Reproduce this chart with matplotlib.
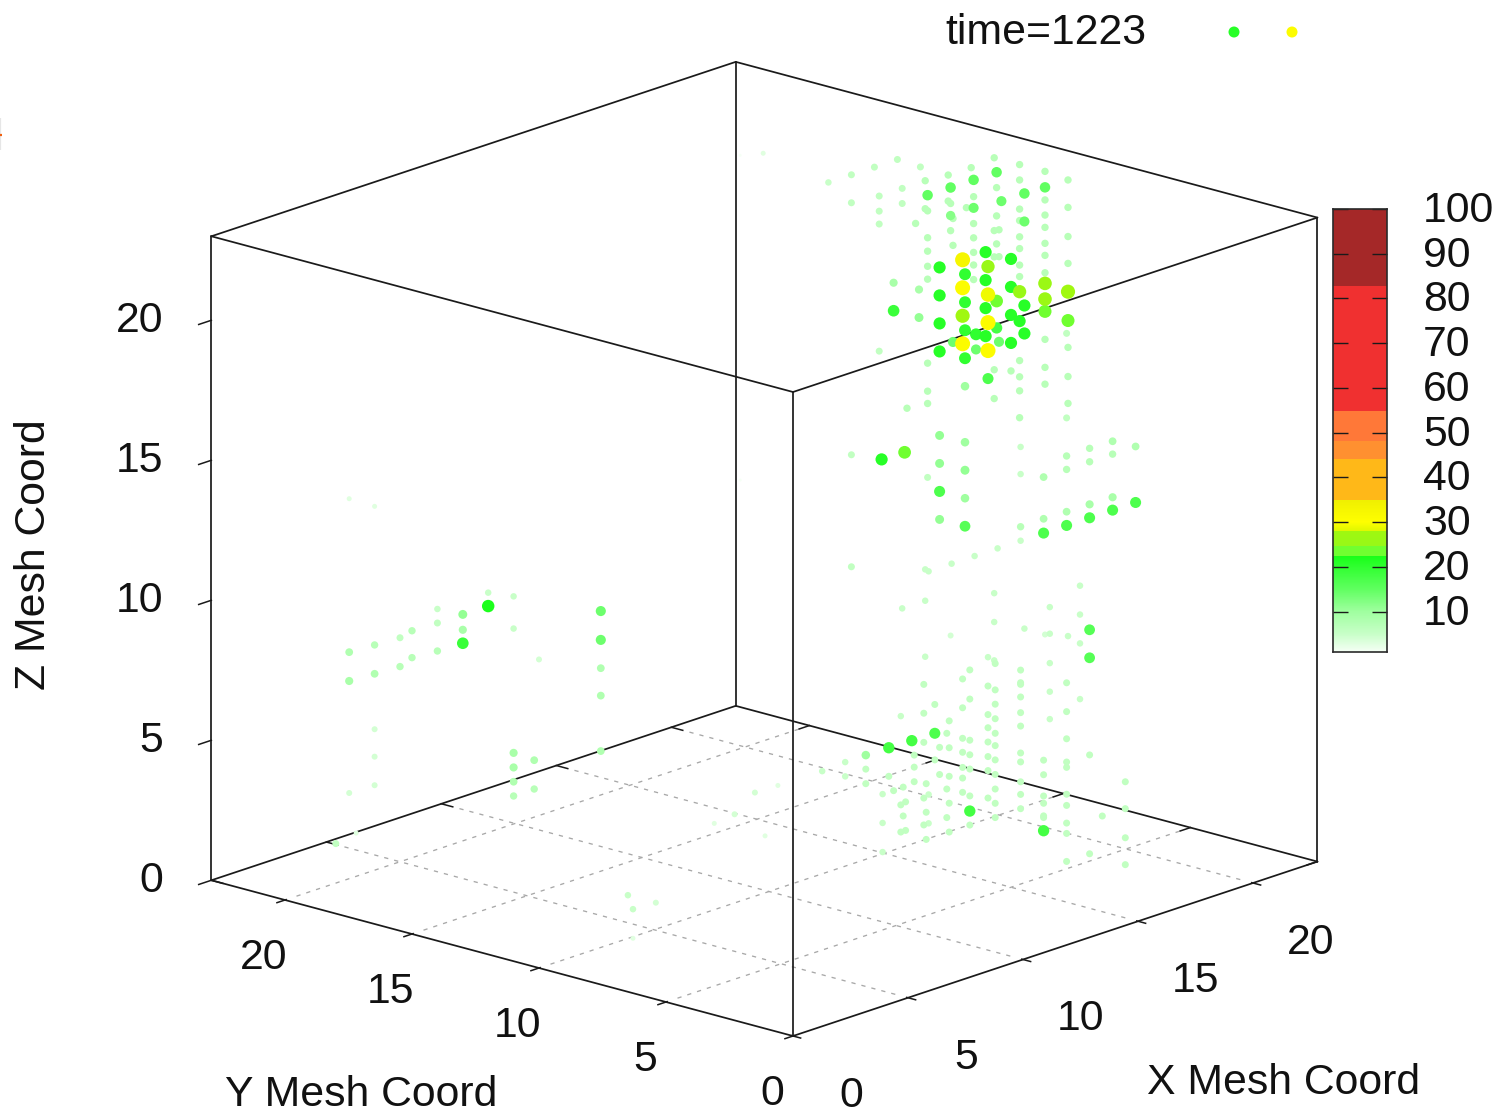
import numpy as np
import matplotlib
matplotlib.use("Agg")
import matplotlib.pyplot as plt
from matplotlib.colors import LinearSegmentedColormap, Normalize
from matplotlib.transforms import ScaledTranslation

plt.rcParams['font.family'] = ['Liberation Sans', 'DejaVu Sans']

# Mesh columns: each row of these lists is one group of nodes at (x, y) with one load value
col_x = [14,14,14,14,14,14,14,13,13,13,
         13,13,13,13,15,15,15,22,22,22,
         21,21,21,21,20,20,20,20,22,22,
         22,22,22,23,23,23,23,11,11,11,
         18,18,19,19,20,20,11,11,20,20,
         20,19,19,19,19,18,18,18,19,12,
         12,12,12,13,13,13,13,14,14,14,
         14,14,15,15,15,15,16,16,11,11,
         11,10,9,8,7,16,17,18,18,22,
         22,19,19,20,21,23,18,18,17,20,
         21,19,17,23,16,20,15,14,11,14,
         14,11,11,14,9,10,13,15,15,14,
         13,13,12,12,9,8,13,8,8,6,
         7,5,10,9,0,0,0,0,0,0,
         0,0,0,5,5,5,5,5,5,5,
         5,5,5,0,0,0,0,0,6,6,
         2,2,0,0,1,0,0,0,0,0,
         0,0,0,23,22]
col_y = [6,6,6,5,5,5,5,6,6,6,
         5,5,5,5,6,5,5,11,11,11,
         11,11,11,11,9,9,9,9,10,10,
         10,10,10,10,10,10,10,6,6,6,
         10,10,10,10,10,10,5,5,11,11,
         11,11,11,11,11,11,11,11,9,1,
         1,1,1,1,1,1,1,1,1,1,
         1,1,1,1,1,1,1,1,1,1,
         1,1,1,1,1,11,11,14,5,12,
         12,12,12,12,12,14,12,12,12,14,
         14,14,14,16,10,8,0.5,0.5,2,5,
         5,3,3,6,2,3,6,8,8,8,
         8,8,8,8,3,2,7,3,3,1,
         2,1,7,7,12,12,13,13,13,14,
         14,14,15,20,20,21,21,21,21,22,
         22,22,22,11,11,11,11,10,13,13,
         12,12,17.2,18,1.5,1.5,2.3,3.1,1.1,6.5,
         6.3,6.3,5.4,22,22]
col_v = [33,31,28,31,29,25,17,21,17,11,
         20,16,11,10,21,21,7,25,21,7,
         23,18,15,7,21,15,14,5,26,24,
         15,7,4,28,24,7,5,19,9,6,
         14,7,20,14,14,7,11,9,15,14,
         7,15,12,7,4,15,7,6,14,18,
         17,8,6,17,8,7,6,17,16,9,
         7,6,17,9,8,7,17,8,7,5,
         6,5,5,5,5,21,23,6,5,7,
         5,7,5,7,7,7,6,5,6,6,
         6,6,5,7,7,5,6,6,6,6,
         5,18,6,6,6,6,6,17,6,18,
         18,6,10,6,6,6,6,5,6,6,
         6,5,5,5,22,5,19,11,9,5,
         6,7,7,6,7,7,8,4,3,8,
         9,4,3,5,9,8,7,4,14,8,
         8,7,3,6,3,4,4,3,3,5,
         5,3,4,3,1]
col_z = [[22],[21,19],[20],[19,20],[21],[22],[18],[19,20,21,22],[14],[16,15,13],
         [19,20,21,22],[13],[15],[18,16,14],[19,20,21,22],[19,20,21,22],[18],[17.46],[16.41],[22,21.45,20.41,19.42,18.41,20,19,18,15,14.42,13.92,12.96],
         [17.4],[16.44],[22],[21.45,20.44,19.44],[17,18],[22],[21],[6.46],[18,17.44],[17],
         [21.43],[22,20.98,20,19,16,15,14.4,20.44,19.43,18.38],[5.46],[17.43],[16.4],[21.42,20.44,19.4,18.44,15.44,14.4,13.44],[5.13],[21],[22],[3.86],
         [17],[20.45,21.41],[17],[16.46],[16.46],[20.46,19.5],[21],[22],[22],[21],
         [21.4,20.44,19.41,18.44,19.93,18.96],[22],[21],[21.43,20.46],[6],[22],[21.44,20.48,20,19.46,19,16,15,14.56],[11.92],[22],[3.37],
         [14],[14.51,16],[5.89,5.37,4.61,4.35,3.9,3.84],[14],[14.49],[16.48,16],[20.86,17.84,8.38,7.35,6.38,5.36,4.4,3.37,4,3,2,5.55],[14],[10,9],[14.48],
         [16.48,16],[5.53,2],[14],[14.46],[16.46],[16],[14],[16],[14.5],[17.35,16.38,14],
         [9.38,8.42,7.38,6.42,5.39,4.43,8.93,8.87,7.86,6.1,4.94],[14],[14],[14],[14,6.03,5],[13.11],[13.09],[22,21,12,8],[9.51,8.48,7.45,5.46],[22,19.4,18.46,14.43,13.4],
         [6.45,5.42,4.05],[22,21],[8.12,7,5],[21.93,21],[21.92],[19.46],[22,21.46],[7],[22,21.46,21,16.46],[22],
         [21.46],[22],[22],[18.41],[15.18],[7.47,6.52,5.47,4.45,3.47],[4.42,3.46,2.42,1.46],[3.47],[9.37,8.43,7.92,7.4,6.88,6.44,5.93,5.41,4.89,4.38,3.87],[7.02,6,5.53,5.02,4.5,4,3.02],
         [8.05],[3.86],[8.9,7.86,5.87,6.39,5.36,4.4,3.36],[7.03,6,4.91,4.41,3.87,3.49,2.98],[7.87,6.91,5.89,4.93,3.9],[6.91,4.92,3.9],[4.86,3.89],[4.33],[5.36,3.38],[4.34],
         [4.36],[3.34],[4.37],[3.87,3.35],[8.93,7.9,6.86,4.87,3.91],[5.9,4.88,3.91],[4.34,3.91,3.39],[8.07],[4.9,3.93],[6.04,5.02],
         [6.05,5.02],[6.59,5.56,4.52],[4.4,4.91],[4.86],[12],[12.48],[10.43],[11.46],[10.91],[11.41],
         [10.91],[9.91],[10.39,9.43],[7.56],[6.53],[7.06],[6.03],[4.05,3.07,2.05],[12.01],[6.56],
         [5.53],[1.53],[12.04],[12.59,11.44],[7,6.48],[5.97],[5.46],[10.58],[9.94,8.91],[7.9,6.92,4.94],
         [5.95],[4.92],[2.63],[2.06],[7.87],[7.89],[6.92],[6.4],[6.44],[3.01],
         [2.56],[1.52],[3.01],[19.46],[19.66,8.06]]
assert len(col_x) == len(col_y) == len(col_v) == len(col_z)

x_ticks = [0, 5, 10, 15, 20]
y_ticks = [0, 5, 10, 15, 20]
z_ticks = [0, 5, 10, 15, 20]
cb_ticks = [100, 90, 80, 70, 60, 50, 40, 30, 20, 10]
key_values = [21, 31]
title_text = "time=1223"

# Palette stops: value, colour
pal_values = [1, 5, 10, 15, 20, 22.4, 22.4, 24.6, 24.6, 28, 28, 30, 34.8, 34.8, 44, 44, 48, 48, 54.7, 54.7, 82.5, 82.5, 100]
pal_colors = ['#f6fff6', '#c8ffc8', '#a0ffa0', '#60ff60', '#30ff30', '#18ff18', '#70ff30', '#70ff30',
              '#98f818', '#a0f810', '#e0f800', '#ffff00', '#f0f000', '#ffb818', '#ffb818', '#ff9030',
              '#ff9030', '#ff7838', '#ff7838', '#f03030', '#f03030', '#a52828', '#a52828']
V_MIN, V_MAX = 1, 100
norm = Normalize(V_MIN, V_MAX)
cmap = LinearSegmentedColormap.from_list(
    'load', [((v - V_MIN) / (V_MAX - V_MIN), c) for v, c in zip(pal_values, pal_colors)], N=1024)

# Oblique view of the mesh box, in figure pixels
X_MAX, Y_MAX, Z_MAX = 22.8, 22.9, 23.0
ORIGIN = (793.0, 1036.0)
Z_CELL_SHIFT = 0.44
FS = 30.8
TXT = '#111111'


def project(x, y, z):
    x, y, z = np.asarray(x, float), np.asarray(y, float), np.asarray(z, float)
    return ORIGIN[0] + 23.0 * x - 25.4 * y, ORIGIN[1] - 7.65 * x - 6.8 * y - 28.0 * z


fig = plt.figure(figsize=(14.99, 11.14), dpi=100)
ax = fig.add_axes([0, 0, 1, 1])
ax.set_xlim(0, 1499)
ax.set_ylim(1114, 0)
ax.axis('off')


def seg(p, q, **kw):
    a, b = project(*p), project(*q)
    ax.plot([a[0], b[0]], [a[1], b[1]], **kw)


box = dict(color='#1a1a1a', lw=1.25, zorder=2, solid_capstyle='round')
for x0, y0, x1, y1 in [(0, 0, X_MAX, 0), (X_MAX, 0, X_MAX, Y_MAX), (X_MAX, Y_MAX, 0, Y_MAX), (0, Y_MAX, 0, 0)]:
    seg((x0, y0, 0), (x1, y1, 0), **box)
    seg((x0, y0, Z_MAX), (x1, y1, Z_MAX), **box)
for cx, cy in [(X_MAX, 0), (X_MAX, Y_MAX), (0, Y_MAX), (0, 0)]:
    seg((cx, cy, 0), (cx, cy, Z_MAX), **box)

grid = dict(color='#a8a8a8', lw=0.95, zorder=1, dashes=(3.2, 4.6))
for t in x_ticks[1:]:
    seg((t, 0.5, 0), (t, Y_MAX - 0.5, 0), **grid)
for t in y_ticks[1:]:
    seg((0.5, t, 0), (X_MAX - 0.5, t, 0), **grid)

tick = dict(color='#1a1a1a', lw=1.1, zorder=2)
for t in x_ticks:
    seg((t, -0.3, 0), (t, 0.05, 0), **tick)
    seg((t, Y_MAX, 0), (t, Y_MAX - 0.45, 0), **tick)
    px, py = project(t, 0, 0)
    ax.text(px + 58, py + 60, str(t), ha='center', va='center', fontsize=FS, color=TXT)
for t in y_ticks:
    seg((-0.35, t, 0), (0.05, t, 0), **tick)
    seg((X_MAX, t, 0), (X_MAX - 0.45, t, 0), **tick)
    px, py = project(0, t, 0)
    ax.text(px - 21, py + 58, str(t), ha='center', va='center', fontsize=FS, color=TXT)
for t in z_ticks:
    seg((0, Y_MAX, t), (-0.55, Y_MAX, t), **tick)
    px, py = project(0, Y_MAX, t)
    ax.text(px - 48, py + 1, str(t), ha='right', va='center', fontsize=FS, color=TXT)

# Points
px, py, pv = [], [], []
for cx, cy, cv, zs in zip(col_x, col_y, col_v, col_z):
    for k in zs:
        sx, sy = project(cx, cy, k + Z_CELL_SHIFT)
        px.append(sx); py.append(sy); pv.append(cv)
px, py, pv = np.array(px), np.array(py), np.array(pv, float)
order = np.argsort(pv)
dia = np.interp(pv, [1, 4, 6, 15, 31], [3, 6, 7, 10.5, 15])
ax.scatter(px[order], py[order], s=(dia[order] * 0.72) ** 2, c=pv[order], cmap=cmap, norm=norm,
           linewidths=0, zorder=3)

# Texts
ax.text(1046, 33, title_text, ha='center', va='center', fontsize=FS, color=TXT)
ax.scatter([1234, 1292], [32, 32], s=(11 * 0.72) ** 2, c=key_values, cmap=cmap, norm=norm, linewidths=0, zorder=3)
ax.text(1284, 1083, 'X Mesh Coord', ha='center', va='center', fontsize=FS, color=TXT)
ax.text(361, 1095, 'Y Mesh Coord', ha='center', va='center', fontsize=FS, color=TXT)
ax.text(34, 555, 'Z Mesh Coord', ha='center', va='center', rotation=90, fontsize=FS, color=TXT)

# Stray edge marks at the far left of the picture
ax.plot([0, 0], [118, 150], color='#e6e6e6', lw=1.6, solid_capstyle='butt', zorder=1)
ax.plot([0, 2], [135, 135], color='#f06010', lw=1.6, solid_capstyle='butt', zorder=1)

# Colour box
W, H = 1499.0, 1114.0
cax = fig.add_axes([1333 / W, 1 - 652 / H, 54 / W, 443 / H])
grad = np.linspace(V_MIN, V_MAX, 1024)[:, None]
cax.imshow(grad, origin='lower', aspect='auto', cmap=cmap, norm=norm, extent=[0, 1, V_MIN, V_MAX],
           interpolation='nearest')
cax.set_xticks([])
cax.set_ylim(V_MIN, V_MAX)
cax.yaxis.tick_right()
cax.set_yticks(cb_ticks)
cax.set_yticklabels([str(v) for v in cb_ticks], fontsize=FS, color=TXT)
cax.tick_params(axis='y', direction='in', length=10.8, width=1.0, color='#1a1a1a', pad=26, left=True, right=True)
shift = ScaledTranslation(0, 2.5 / 100, fig.dpi_scale_trans)
for lab in cax.get_yticklabels():
    lab.set_transform(lab.get_transform() + shift)
for s in cax.spines.values():
    s.set_color('#2a2a2a')
    s.set_linewidth(1.2)

fig.savefig('out.png', dpi=100, facecolor='white')
